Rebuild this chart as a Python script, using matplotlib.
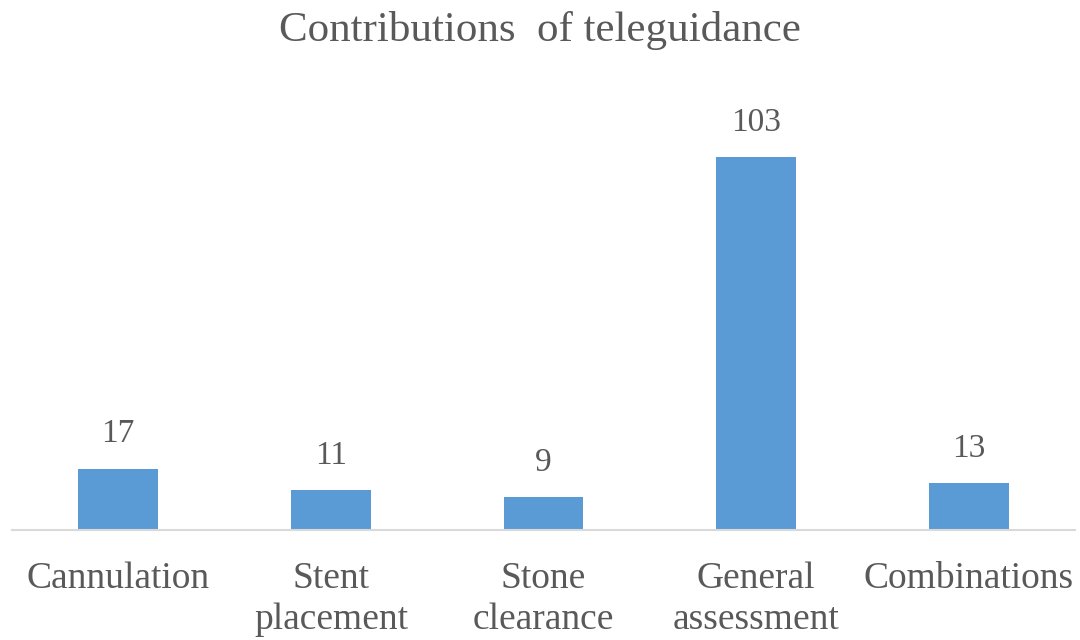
# libraries
import matplotlib.pyplot as plt

# data
categories = ['Cannulation', 'Stent\nplacement', 'Stone\nclearance', 'General\nassessment', 'Combinations']
values = [17, 11, 9, 103, 13]

plt.rcParams['font.family'] = ['Liberation Serif', 'DejaVu Serif']
text_color = '#595959'

fig = plt.figure(figsize=(10.8, 6.4), dpi=100)
ax = fig.add_axes([12 / 1080, 1 - 530 / 640, 1063 / 1080, 434 / 640])

x = range(len(categories))
bars = ax.bar(x, values, width=0.375, color='#5B9BD5')
ax.set_xlim(-0.5, len(categories) - 0.5)
ax.set_ylim(0, 120)

# value labels
for xi, v in zip(x, values):
    ax.annotate(str(v), (xi, v), xytext=(0, 14), textcoords='offset points',
                ha='center', va='bottom', fontsize=24, color=text_color)

ax.set_xticks(list(x))
ax.set_xticklabels(categories, fontsize=27, color=text_color, linespacing=1.22)
ax.tick_params(axis='x', length=0, pad=23)
ax.set_yticks([])
for side in ['left', 'right', 'top']:
    ax.spines[side].set_visible(False)
ax.spines['bottom'].set_color('#D9D9D9')
ax.spines['bottom'].set_linewidth(1.5)

fig.text(0.5, 1 - 31 / 640, 'Contributions  of teleguidance', ha='center', va='center',
         fontsize=31, color=text_color)

fig.savefig('out.png', dpi=100)
